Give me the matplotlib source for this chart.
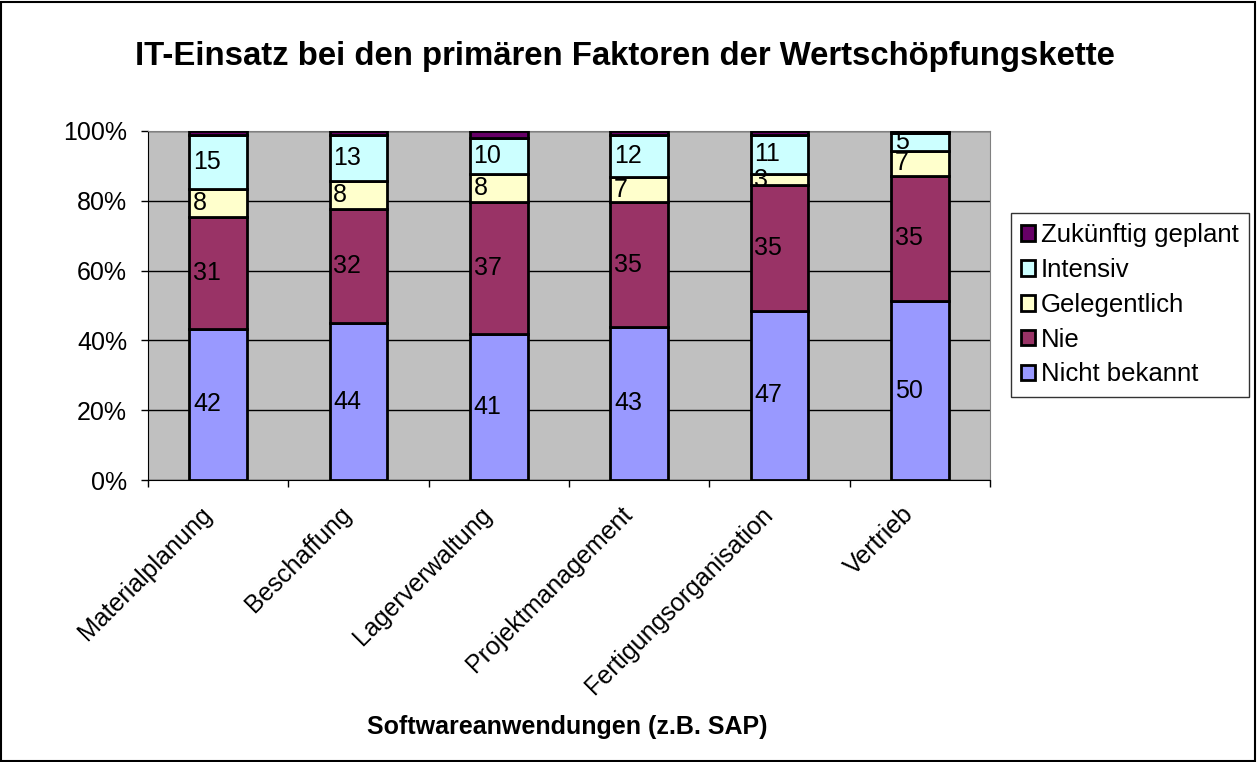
import numpy as np
import matplotlib
matplotlib.use("Agg")
import matplotlib.pyplot as plt
import matplotlib.transforms as mtransforms
from matplotlib.ticker import FuncFormatter, MultipleLocator

plt.rcParams['font.family'] = ['Liberation Sans', 'DejaVu Sans']

# Daten
kategorien = ["Materialplanung", "Beschaffung", "Lagerverwaltung",
              "Projektmanagement", "Fertigungsorganisation", "Vertrieb"]
nicht_bekannt = [42, 44, 41, 43, 47, 50]
nie = [31, 32, 37, 35, 35, 35]
gelegentlich = [8, 8, 8, 7, 3, 7]
intensiv = [15, 13, 10, 12, 11, 5]
zukuenftig = [1, 1, 2, 1, 1, 0.5]

serien = [
    ("Nicht bekannt", nicht_bekannt, "#9999FF", True),
    ("Nie", nie, "#993366", True),
    ("Gelegentlich", gelegentlich, "#FFFFCC", True),
    ("Intensiv", intensiv, "#CCFFFF", True),
    ("Zukünftig geplant", zukuenftig, "#660066", False),
]

summe = np.sum([s[1] for s in serien], axis=0)

fig = plt.figure(figsize=(12.58, 7.62), dpi=100)
ax = fig.add_axes([148 / 1258, 1 - 480 / 762, 842 / 1258, 349 / 762])
ax.set_facecolor("#C0C0C0")

x = np.arange(len(kategorien))
unten = np.zeros(len(kategorien))
handles = []
for name, werte, farbe, beschriften in serien:
    anteil = np.array(werte) / summe * 100
    bars = ax.bar(x, anteil, bottom=unten, width=0.41, color=farbe,
                  edgecolor="black", linewidth=2, label=name, zorder=3)
    handles.append(bars)
    if beschriften:
        for xi, b, a, w in zip(x, unten, anteil, werte):
            ax.text(xi - 0.18, b + a / 2, str(w), ha="left", va="center",
                    fontsize=18, zorder=4)
    unten += anteil

ax.set_xlim(-0.5, len(kategorien) - 0.5)
ax.set_ylim(0, 100)
ax.yaxis.set_major_locator(MultipleLocator(20))
ax.yaxis.set_major_formatter(FuncFormatter(lambda v, p: "%d%%" % v))
ax.grid(axis="y", color="black", linewidth=1, zorder=1)
ax.tick_params(axis="y", labelsize=18, direction="out", length=5, width=1, pad=10)

ax.set_xticks(np.arange(-0.5, len(kategorien)), minor=False)
ax.set_xticklabels([])
ax.set_xticks(x, minor=True)
ax.set_xticklabels(kategorien, minor=True, rotation=45, ha="right",
                   rotation_mode="anchor", fontsize=18)
ax.tick_params(axis="x", which="minor", length=0, pad=16)
ax.tick_params(axis="x", which="major", length=5, width=1, direction="out")
versatz = mtransforms.ScaledTranslation(-0.19, 0, fig.dpi_scale_trans)
for lab in ax.get_xticklabels(minor=True):
    lab.set_transform(lab.get_transform() + versatz)

for s in ["top", "right"]:
    ax.spines[s].set_color("#808080")
for s in ["left", "bottom"]:
    ax.spines[s].set_color("black")

fig.text(0.451, 1 - 727 / 762, "Softwareanwendungen (z.B. SAP)", fontsize=18,
         fontweight="bold", ha="center", va="center")

fig.text(0.497, 1 - 56 / 762,
         "IT-Einsatz bei den primären Faktoren der Wertschöpfungskette",
         fontsize=23.7, fontweight="bold", ha="center", va="center")

leg = fig.legend(handles[::-1], [s[0] for s in serien][::-1],
                 loc="upper left", bbox_to_anchor=(1011 / 1258, 1 - 213 / 762),
                 fontsize=18.5, frameon=True, fancybox=False, edgecolor="black",
                 handlelength=0.55, handleheight=0.55, handletextpad=0.2,
                 labelspacing=0.42, borderpad=0.4, borderaxespad=0)
leg.get_frame().set_linewidth(1)

# Rahmen um das Diagramm
fig.patches.append(plt.Rectangle((0.001, 0.001), 0.997, 0.997,
                                 transform=fig.transFigure, fill=False,
                                 edgecolor="black", linewidth=1.5))

fig.savefig("out.png", dpi=100)
